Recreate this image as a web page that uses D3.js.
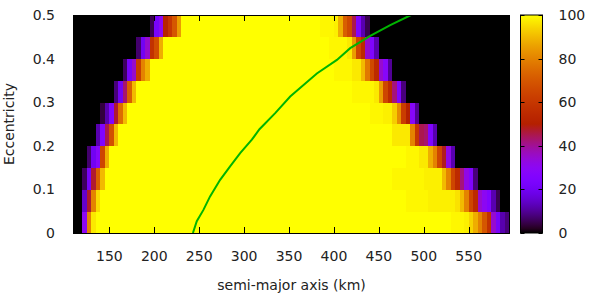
<!DOCTYPE html>
<html>
<head>
<meta charset="utf-8">
<script src="https://cdn.jsdelivr.net/npm/d3@7/dist/d3.min.js"></script>
<style>
body { margin: 0; background: #fff; }
text { font-family: "DejaVu Sans", sans-serif; font-size: 14px; fill: #222; }
</style>
</head>
<body>
<svg class="chart"></svg>
<script>
// Global setup
var margin = {top: 15, right: 88, bottom: 67, left: 73};
var width = 598 - margin.left - margin.right;
var height = 300 - margin.top - margin.bottom;

// Data: one row per eccentricity band (0.05 wide), 5 km columns
var eccRows = [0, 0.05, 0.1, 0.15, 0.2, 0.25, 0.3, 0.35, 0.4, 0.45];
var cellStarts = [110, 115, 120, 125, 130, 135, 140, 145, 150, 155, 160, 165, 170, 175, 180,
  185, 190, 195, 200, 205, 210, 215, 220, 225, 230, 235, 240, 245, 250, 255, 260, 265, 270,
  275, 280, 285, 290, 295, 300, 305, 310, 315, 320, 325, 330, 335, 340, 345, 350, 355, 360,
  365, 370, 375, 380, 385, 390, 395, 400, 405, 410, 415, 420, 425, 430, 435, 440, 445, 450,
  455, 460, 465, 470, 475, 480, 485, 490, 495, 500, 505, 510, 515, 520, 525, 530, 535, 540,
  545, 550, 555, 560, 565, 570, 575, 580, 585, 590, 595];

// left edge of the band (km) and the values there, below that it is 0
var riseStart = [120, 120, 120, 125, 135, 140, 155, 165, 180, 195];
var riseValues = [
  [30, 80, 97],
  [15, 47, 80, 95],
  [6, 22, 47, 72, 90],
  [7, 20, 28, 65, 88],
  [12, 25, 45, 68, 90],
  [4, 12, 25, 47, 75, 90],
  [8, 20, 43, 72, 90],
  [6, 22, 35, 62, 80, 88],
  [7, 20, 35, 58, 67, 88],
  [5, 22, 30, 52, 60, 70, 85]
];
// right edge of the band, after the listed values it is 0
var fallStart = [530, 480, 465, 480, 465, 440, 420, 400, 395, 385];
var fallValues = [
  [99, 99, 99, 98, 94, 88, 80, 70, 58, 35, 22, 12, 8, 6],
  [99, 99, 99, 99, 99, 98, 98, 98, 98, 98, 98, 96, 90, 80, 65, 55, 35, 30, 25, 12, 5],
  [99, 99, 99, 99, 99, 99, 99, 98, 98, 98, 98, 90, 80, 65, 55, 42, 32, 25, 8],
  [99, 99, 99, 97, 97, 88, 80, 65, 48, 32, 12],
  [97, 97, 97, 97, 80, 60, 45, 43, 25, 12],
  [99, 99, 99, 98, 98, 93, 82, 62, 50, 28, 10],
  [99, 99, 99, 99, 99, 97, 85, 65, 55, 42, 25, 8],
  [99, 99, 99, 99, 97, 97, 90, 78, 66, 55, 35, 28, 10],
  [99, 99, 99, 99, 97, 85, 65, 55, 35, 25, 12],
  [99, 99, 99, 98, 88, 72, 66, 45, 25, 12, 5]
];

// green curve
var curveA = [243, 247.3, 254.7, 262.1, 273.3, 284.4, 295.6, 308.6, 317.1, 334.6, 351.3,
  381, 403.3, 418.1, 440.4, 462.7, 485.8];
var curveE = [0, 0.027, 0.053, 0.084, 0.122, 0.153, 0.183, 0.214, 0.238, 0.275, 0.313,
  0.366, 0.397, 0.424, 0.452, 0.477, 0.5];

var xTicks = [150, 200, 250, 300, 350, 400, 450, 500, 550];
var yTicks = [0, 0.1, 0.2, 0.3, 0.4, 0.5];
var yTickLabels = ['0', '0.1', '0.2', '0.3', '0.4', '0.5'];
var cbTicks = [0, 20, 40, 60, 80, 100];

// gnuplot rgbformulae 7,5,15
function palette (v) {
  var t = Math.max(0, Math.min(1, v / 100));
  var r = Math.sqrt(t);
  var g = t * t * t;
  var b = Math.max(0, Math.sin(2 * Math.PI * t));
  return d3.rgb(r * 255, g * 255, b * 255).formatHex();
}

function cellValue (row, a) {
  var rs = riseStart[row];
  var fs = fallStart[row];
  if (a < rs) return 0;
  var ri = (a - rs) / 5;
  if (ri < riseValues[row].length) return riseValues[row][ri];
  if (a < fs) return 100;
  var fi = (a - fs) / 5;
  return fi < fallValues[row].length ? fallValues[row][fi] : 0;
}

var cells = [];
eccRows.forEach(function (e, row) {
  cellStarts.forEach(function (a) {
    cells.push({a: a, e: e, v: cellValue(row, a)});
  });
});

var x = d3.scaleLinear().domain([109.5, 596]).range([0, width]);
var y = d3.scaleLinear().domain([0, 0.5]).range([height, 0]);

var svg = d3.select('.chart')
  .attr('width', 598)
  .attr('height', 300);

var defs = svg.append('defs');
defs.append('clipPath').attr('id', 'plotClip')
  .append('rect').attr('width', width).attr('height', height);

var container = svg.append('g')
  .attr('transform', 'translate(' + margin.left + ',' + margin.top + ')');

var plot = container.append('g').attr('clip-path', 'url(#plotClip)');

plot.selectAll('.cell')
  .data(cells)
  .enter()
  .append('rect')
  .attr('class', 'cell')
  .attr('x', function (d) { return x(d.a); })
  .attr('y', function (d) { return y(d.e + 0.05); })
  .attr('width', function (d) { return x(d.a + 5) - x(d.a) + 0.3; })
  .attr('height', function (d) { return y(d.e) - y(d.e + 0.05) + 0.3; })
  .attr('fill', function (d) { return palette(d.v); })
  .attr('shape-rendering', 'crispEdges');

var line = d3.line()
  .x(function (d) { return x(d[0]); })
  .y(function (d) { return y(d[1]); });

plot.append('path')
  .datum(curveA.map(function (a, i) { return [a, curveE[i]]; }))
  .attr('d', line)
  .attr('fill', 'none')
  .attr('stroke', '#00b400')
  .attr('stroke-width', 2);

// Axes (ticks inward, mirrored)
var tickLen = 6;
var axes = container.append('g').attr('stroke', '#000').attr('stroke-width', 1);
xTicks.forEach(function (t) {
  var px = Math.round(x(t)) + 0.5;
  axes.append('line').attr('x1', px).attr('x2', px).attr('y1', height).attr('y2', height - tickLen);
  axes.append('line').attr('x1', px).attr('x2', px).attr('y1', 0).attr('y2', tickLen);
});
yTicks.forEach(function (t) {
  var py = Math.round(y(t)) + 0.5;
  axes.append('line').attr('x1', 0).attr('x2', tickLen).attr('y1', py).attr('y2', py);
  axes.append('line').attr('x1', width).attr('x2', width - tickLen).attr('y1', py).attr('y2', py);
});
axes.append('rect')
  .attr('x', 0.5).attr('y', 0.5)
  .attr('width', width - 1).attr('height', height)
  .attr('fill', 'none');

container.selectAll('.xlabel')
  .data(xTicks)
  .enter()
  .append('text')
  .attr('x', function (d) { return x(d); })
  .attr('y', height + 23)
  .attr('dy', '.35em')
  .attr('text-anchor', 'middle')
  .text(function (d) { return d; });

container.selectAll('.ylabel')
  .data(yTicks)
  .enter()
  .append('text')
  .attr('x', -18)
  .attr('y', function (d) { return y(d); })
  .attr('dy', '.35em')
  .attr('text-anchor', 'end')
  .text(function (d, i) { return yTickLabels[i]; });

container.append('text')
  .attr('x', width / 2)
  .attr('y', height + 52)
  .attr('dy', '.35em')
  .attr('text-anchor', 'middle')
  .text('semi-major axis (km)');

svg.append('text')
  .attr('transform', 'translate(9,' + (margin.top + height / 2) + ') rotate(-90)')
  .attr('dy', '.35em')
  .attr('text-anchor', 'middle')
  .text('Eccentricity');

// Colour box
var cbX = 520.5;
var cbW = 22;
var cb = d3.scaleLinear().domain([0, 100]).range([height, 0]);
var grad = defs.append('linearGradient')
  .attr('id', 'cbGrad')
  .attr('x1', 0).attr('y1', 1).attr('x2', 0).attr('y2', 0);
d3.range(0, 101, 2).forEach(function (v) {
  grad.append('stop').attr('offset', (v / 100)).attr('stop-color', palette(v));
});

var cbox = svg.append('g')
  .attr('transform', 'translate(' + cbX + ',' + margin.top + ')');
cbox.append('rect')
  .attr('width', cbW).attr('height', height)
  .attr('fill', 'url(#cbGrad)')
  .attr('stroke', '#000');
cbTicks.forEach(function (t) {
  var py = Math.round(cb(t)) + 0.5;
  cbox.append('line').attr('x1', 0).attr('x2', 4).attr('y1', py).attr('y2', py).attr('stroke', '#000');
  cbox.append('line').attr('x1', cbW).attr('x2', cbW - 4).attr('y1', py).attr('y2', py).attr('stroke', '#000');
  cbox.append('text')
    .attr('x', cbW + 16)
    .attr('y', cb(t))
    .attr('dy', '.35em')
    .text(t);
});
</script>
</body>
</html>
